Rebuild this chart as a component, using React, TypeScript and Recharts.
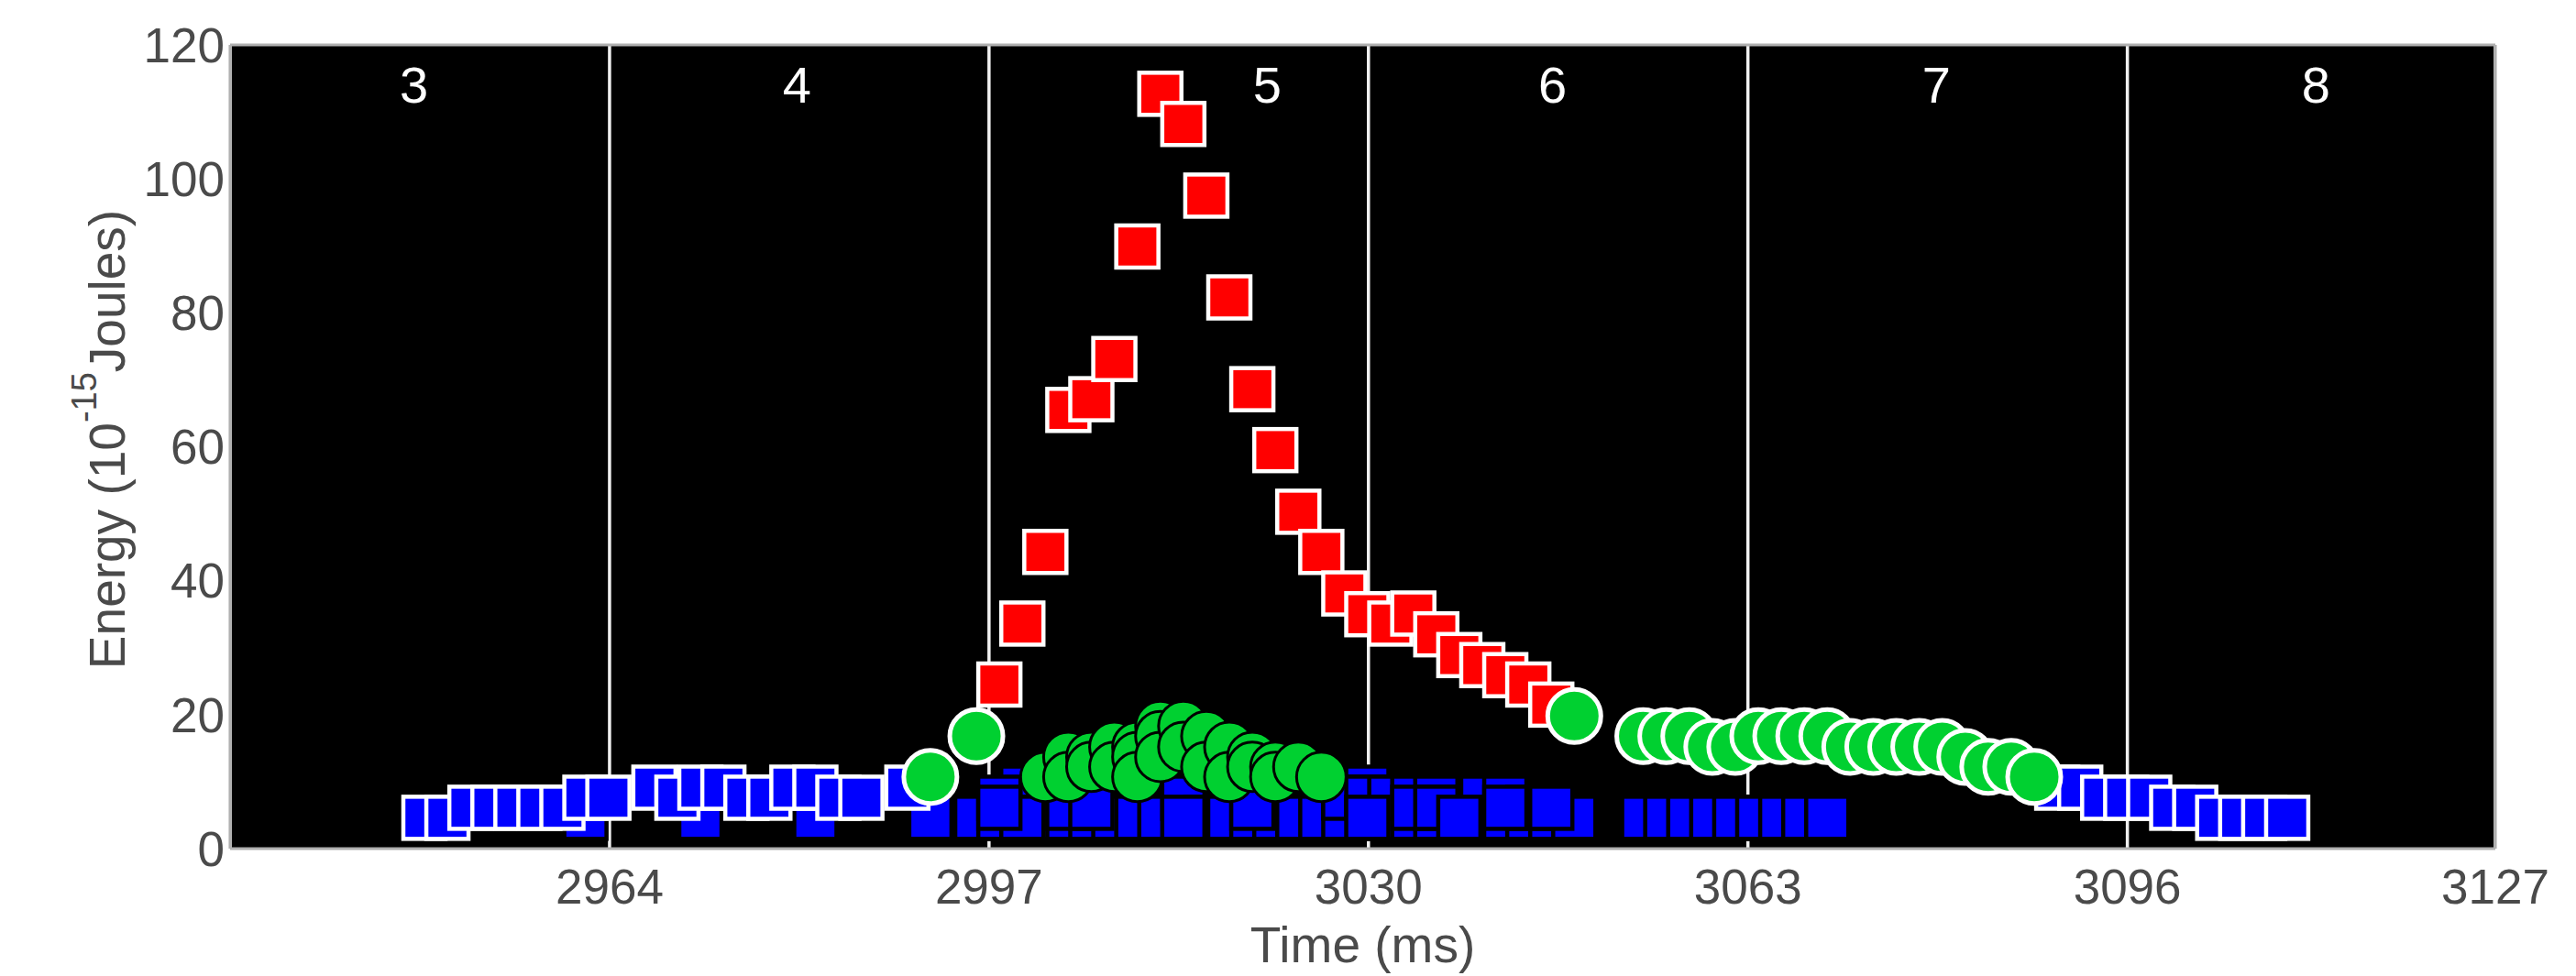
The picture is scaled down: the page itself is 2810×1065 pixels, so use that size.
import React from "react";
import { CartesianGrid, Scatter, ScatterChart, XAxis, YAxis } from "recharts";

const FONT = '"Liberation Sans", Arial, Helvetica, sans-serif';
const TEXT = "#4a4a4a";
const FRAME = "#b0b0b0";
const BLUE = "#0000ff";
const RED = "#ff0000";
const GREEN = "#00d030";

const xTicks = [2964, 2997, 3030, 3063, 3096, 3128];
const xTickLabels = ["2964", "2997", "3030", "3063", "3096", "3127"];
const yTicks = [0, 20, 40, 60, 80, 100, 120];

// segment numbers along the top
const segTimes = [2947.0, 2980.3, 3021.2, 3046.0, 3079.4, 3112.4];
const segNames = ["3", "4", "5", "6", "7", "8"];
const segLevel = 114.1;

// blue squares with white edge (segments 3-4 and 7-8)
const blueEarlyT = [2947.9, 2949.9, 2951.9, 2953.9, 2955.9, 2957.9, 2959.9, 2961.9, 2963.9, 2967.9, 2969.9, 2971.9, 2973.9, 2975.9, 2977.9, 2979.9, 2981.9, 2983.9, 2985.9, 2989.9];
const blueEarlyE = [4.6, 4.6, 6.1, 6.1, 6.1, 6.1, 6.1, 7.6, 7.6, 9.1, 7.6, 9.1, 9.1, 7.6, 7.6, 9.1, 9.1, 7.6, 7.6, 9.1];
const blueLateT = [3089.9, 3091.9, 3093.9, 3095.9, 3097.9, 3099.9, 3101.9, 3103.9, 3105.9, 3107.9, 3109.9];
const blueLateE = [9.1, 9.1, 7.6, 7.6, 7.6, 6.1, 6.1, 4.6, 4.6, 4.6, 4.6];

// blue squares with black edge, drawn in three passes
const blueBgAT = [2961.9, 2971.9, 2981.9, 2991.9, 2995.9, 2997.9, 2999.9, 3001.9, 3003.9, 3005.9, 3007.9, 3009.9, 3011.9, 3013.9, 3015.9, 3017.9, 3019.9, 3021.9, 3023.9, 3025.9, 3027.9, 3029.9, 3031.9, 3033.9, 3035.9, 3037.9, 3039.9, 3041.9, 3043.9, 3045.9, 3047.9, 3053.9, 3055.9, 3057.9, 3059.9, 3061.9, 3063.9, 3065.9, 3067.9, 3069.9];
const blueBgAE = [4.6, 4.6, 4.6, 4.6, 4.6, 4.6, 9.1, 4.6, 4.6, 4.6, 4.6, 4.6, 4.6, 7.6, 4.6, 4.6, 4.6, 4.6, 4.6, 4.6, 4.6, 9.1, 4.6, 4.6, 4.6, 7.6, 4.6, 4.6, 4.6, 4.6, 4.6, 4.6, 4.6, 4.6, 4.6, 4.6, 4.6, 4.6, 4.6, 4.6];
const blueBgBT = [2997.9, 2999.9, 3003.9, 3005.9, 3013.9, 3019.9, 3027.9, 3029.9, 3031.9, 3033.9, 3035.9, 3037.9, 3039.9, 3041.9, 3043.9, 3045.9];
const blueBgBE = [7.6, 4.6, 6.1, 6.1, 4.6, 6.1, 7.6, 7.6, 7.6, 7.6, 7.6, 6.1, 7.6, 7.6, 6.1, 6.1];
const blueBgCT = [2997.9, 3029.9, 3033.9, 3035.9, 3037.9, 3041.9];
const blueBgCE = [6.1, 4.6, 6.1, 6.1, 4.6, 6.1];

// red squares
const redT = [2997.9, 2999.9, 3001.9, 3003.9, 3005.9, 3007.9, 3009.9, 3011.9, 3013.9, 3015.9, 3017.9, 3019.9, 3021.9, 3023.9, 3025.9, 3027.9, 3029.9, 3031.9, 3033.9, 3035.9, 3037.9, 3039.9, 3041.9, 3043.9, 3045.9];
const redE = [24.5, 33.6, 44.3, 65.5, 67.1, 73.1, 89.9, 112.7, 108.2, 97.5, 82.3, 68.6, 59.5, 50.3, 44.3, 38.1, 35.0, 33.6, 35.1, 32.0, 28.9, 27.4, 25.9, 24.5, 21.5];

// green circles, black edge (cluster in segment 5)
const greenMidT = [3001.9, 3003.9, 3003.9, 3005.9, 3005.9, 3007.9, 3007.9, 3009.9, 3009.9, 3009.9, 3011.9, 3011.9, 3011.9, 3013.9, 3013.9, 3015.9, 3015.9, 3017.9, 3017.9, 3019.9, 3019.9, 3021.9, 3021.9, 3023.9, 3025.9];
const greenMidE = [10.7, 13.7, 10.7, 13.7, 12.2, 15.2, 12.2, 15.2, 13.7, 10.7, 18.3, 16.8, 13.7, 18.3, 15.2, 16.8, 12.2, 15.2, 10.7, 13.7, 12.2, 12.2, 10.7, 12.2, 10.7];

// green circles, white edge
const greenEarlyT = [2991.9, 2995.9];
const greenEarlyE = [10.7, 16.8];
const greenLateT = [3047.9, 3053.9, 3055.9, 3057.9, 3059.9, 3061.9, 3063.9, 3065.9, 3067.9, 3069.9, 3071.9, 3073.9, 3075.9, 3077.9, 3079.9, 3081.9, 3083.9, 3085.9, 3087.9];
const greenLateE = [19.8, 16.8, 16.8, 16.8, 15.2, 15.2, 16.8, 16.8, 16.8, 16.8, 15.2, 15.2, 15.2, 15.2, 15.2, 13.7, 12.2, 12.2, 10.7];

const pts = (ts: number[], es: number[]) => ts.map((t, i) => ({ t, e: es[i] }));
const segData = segTimes.map((t, i) => ({ t, e: segLevel, name: segNames[i] }));

const makeSquare = (fill: string, stroke: string) => (p: any) => (
  <rect x={p.cx - 23} y={p.cy - 23} width={46} height={46} fill={fill} stroke={stroke} strokeWidth={4.5} />
);
const makeDot = (stroke: string, r: number, sw: number) => (p: any) => (
  <circle cx={p.cx} cy={p.cy} r={r} fill={GREEN} stroke={stroke} strokeWidth={sw} />
);
const segShape = (p: any) => (
  <text x={p.cx} y={p.cy} dy="0.36em" textAnchor="middle" fill="#ffffff" fontSize={56} fontFamily={FONT}>
    {p.payload.name}
  </text>
);

function XTitle(props: any) {
  const vb = props.viewBox || { x: 251, y: 926, width: 2471, height: 125 };
  return (
    <text x={vb.x + vb.width / 2} y={vb.y + 124} textAnchor="middle" fill={TEXT} fontSize={55} fontFamily={FONT}>
      Time (ms)
    </text>
  );
}

function YTitle(props: any) {
  const vb = props.viewBox || { x: 11, y: 49, width: 240, height: 877 };
  const cx = vb.x + 125;
  const cy = vb.y + vb.height / 2 - 8;
  return (
    <text x={cx} y={cy} transform={`rotate(-90 ${cx} ${cy})`} textAnchor="middle" fill={TEXT} fontSize={55} fontFamily={FONT}>
      Energy (10
      <tspan dy={-31} fontSize={38}>-15</tspan>
      <tspan dy={31}>Joules)</tspan>
    </text>
  );
}

const tickStyle = { fill: TEXT, fontSize: 53, fontFamily: FONT };
const frameLine = { stroke: FRAME, strokeWidth: 3 };

export default function App() {
  return (
    <div style={{ width: 2810, height: 1065, background: "#fff" }}>
      <style>{"body{margin:0;}"}</style>
      <ScatterChart width={2810} height={1065} margin={{ top: 48, right: 87, bottom: 14, left: 11 }}>
        <CartesianGrid horizontal={false} stroke="#f0f0f0" strokeWidth={3.5} fill="#000000" fillOpacity={1} />
        <XAxis
          xAxisId={0}
          type="number"
          dataKey="t"
          domain={[2931, 3128]}
          ticks={xTicks}
          interval={0}
          tickFormatter={(v: number) => xTickLabels[xTicks.indexOf(v)]}
          height={125}
          tickSize={0}
          tickMargin={22}
          tickLine={false}
          axisLine={frameLine}
          tick={tickStyle}
          label={{ content: XTitle }}
        />
        <XAxis xAxisId="top" orientation="top" type="number" domain={[2931, 3128]} height={1} tick={false} tickLine={false} axisLine={frameLine} />
        <YAxis
          yAxisId={0}
          type="number"
          dataKey="e"
          domain={[0, 120]}
          ticks={yTicks}
          interval={0}
          width={240}
          tickSize={0}
          tickMargin={6}
          tickLine={false}
          axisLine={frameLine}
          tick={tickStyle}
          label={{ content: YTitle }}
        />
        <YAxis yAxisId="right" orientation="right" type="number" domain={[0, 120]} width={1} tick={false} tickLine={false} axisLine={frameLine} />

        <Scatter data={pts(blueBgAT, blueBgAE)} shape={makeSquare(BLUE, "#000000")} isAnimationActive={false} />
        <Scatter data={pts(blueBgBT, blueBgBE)} shape={makeSquare(BLUE, "#000000")} isAnimationActive={false} />
        <Scatter data={pts(blueBgCT, blueBgCE)} shape={makeSquare(BLUE, "#000000")} isAnimationActive={false} />
        <Scatter data={pts(blueEarlyT, blueEarlyE)} shape={makeSquare(BLUE, "#ffffff")} isAnimationActive={false} />
        <Scatter data={pts(blueLateT, blueLateE)} shape={makeSquare(BLUE, "#ffffff")} isAnimationActive={false} />
        <Scatter data={pts(redT, redE)} shape={makeSquare(RED, "#ffffff")} isAnimationActive={false} />
        <Scatter data={pts(greenMidT, greenMidE)} shape={makeDot("#000000", 27, 3)} isAnimationActive={false} />
        <Scatter data={pts(greenEarlyT, greenEarlyE)} shape={makeDot("#ffffff", 29, 5)} isAnimationActive={false} />
        <Scatter data={pts(greenLateT, greenLateE)} shape={makeDot("#ffffff", 29, 5)} isAnimationActive={false} />
        <Scatter data={segData} shape={segShape} isAnimationActive={false} />
      </ScatterChart>
    </div>
  );
}
